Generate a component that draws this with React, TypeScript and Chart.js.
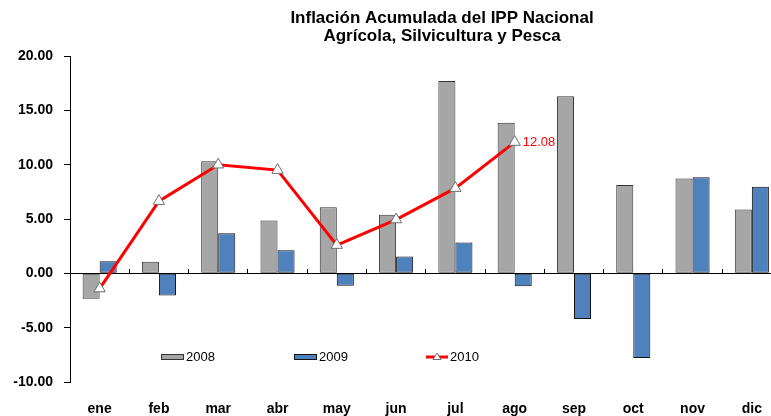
import React, { useEffect, useRef } from "react";
import { Chart, registerables } from "chart.js";

Chart.register(...registerables);

const months = ["ene", "feb", "mar", "abr", "may", "jun", "jul", "ago", "sep", "oct", "nov", "dic"];
const series2008 = [-2.35, 1.06, 10.32, 4.86, 6.09, 5.38, 17.7, 13.85, 16.3, 8.14, 8.72, 5.87];
const series2009 = [1.12, -2.04, 3.7, 2.13, -1.15, 1.55, 2.83, -1.18, -4.2, -7.8, 8.85, 7.96];
const series2010 = [-1.4, 6.64, 10.0, 9.5, 2.6, 4.95, 7.84, 12.08];
const titleLines = ["Inflación Acumulada del IPP Nacional", "Agrícola, Silvicultura y Pesca"];
const seriesNames = ["2008", "2009", "2010"];
const yTicks = { min: -10, max: 20, step: 5 };

const FONT = "'Liberation Sans', Arial, sans-serif";

const titlePlugin = {
  id: "customTitle",
  afterDraw(chart: any) {
    const ctx = chart.ctx;
    ctx.save();
    ctx.fillStyle = "#000";
    ctx.font = `bold 17px ${FONT}`;
    ctx.textAlign = "center";
    ctx.textBaseline = "middle";
    ctx.fillText(titleLines[0], 442, 18);
    ctx.fillText(titleLines[1], 442, 36);
    ctx.restore();
  },
};

const legendPlugin = {
  id: "customLegend",
  afterDraw(chart: any) {
    const ctx = chart.ctx;
    const ds = chart.data.datasets;
    const y = 357;
    const pos = [161, 294, 426];
    ctx.save();
    ctx.font = `13px ${FONT}`;
    ctx.textBaseline = "middle";
    ctx.textAlign = "left";
    for (let i = 0; i < 2; i++) {
      ctx.fillStyle = ds[i].backgroundColor;
      ctx.strokeStyle = ds[i].borderColor;
      ctx.lineWidth = 1;
      ctx.fillRect(pos[i] + 0.5, y - 2.5, 22, 5);
      ctx.strokeRect(pos[i] + 0.5, y - 2.5, 22, 5);
      ctx.fillStyle = "#000";
      ctx.fillText(ds[i].label, pos[i] + 25, y);
    }
    const l = ds[2];
    ctx.strokeStyle = l.borderColor;
    ctx.lineWidth = 3;
    ctx.beginPath();
    ctx.moveTo(pos[2], y);
    ctx.lineTo(pos[2] + 22, y);
    ctx.stroke();
    const cx = pos[2] + 11;
    ctx.fillStyle = l.pointBackgroundColor;
    ctx.strokeStyle = l.pointBorderColor;
    ctx.lineWidth = 1;
    ctx.beginPath();
    ctx.moveTo(cx, y - 4);
    ctx.lineTo(cx + 4, y + 2.5);
    ctx.lineTo(cx - 4, y + 2.5);
    ctx.closePath();
    ctx.fill();
    ctx.stroke();
    ctx.fillStyle = "#000";
    ctx.fillText(l.label, pos[2] + 24, y);
    ctx.restore();
  },
};

const dataLabelPlugin = {
  id: "lastLabel",
  afterDatasetsDraw(chart: any) {
    const meta = chart.getDatasetMeta(2);
    const idx = series2010.length - 1;
    const pt = meta.data[idx];
    if (!pt) return;
    const ctx = chart.ctx;
    ctx.save();
    ctx.font = `13px ${FONT}`;
    ctx.fillStyle = "#FF0000";
    ctx.textAlign = "left";
    ctx.textBaseline = "middle";
    ctx.fillText(series2010[idx].toFixed(2), pt.x + 8, pt.y);
    ctx.restore();
  },
};

export default function App() {
  const ref = useRef<HTMLCanvasElement | null>(null);
  useEffect(() => {
    if (!ref.current) return;
    const chart = new Chart(ref.current, {
      type: "bar",
      data: {
        labels: months,
        datasets: [
          {
            type: "bar",
            label: seriesNames[0],
            data: series2008,
            backgroundColor: "#A6A6A6",
            borderColor: "#333333",
            borderWidth: 1,
            borderSkipped: false,
            categoryPercentage: 0.575,
            barPercentage: 1,
            order: 1,
          },
          {
            type: "bar",
            label: seriesNames[1],
            data: series2009,
            backgroundColor: "#4F81BD",
            borderColor: "#111111",
            borderWidth: 1,
            borderSkipped: false,
            categoryPercentage: 0.575,
            barPercentage: 1,
            order: 1,
          },
          {
            type: "line",
            label: seriesNames[2],
            data: series2010,
            borderColor: "#FF0000",
            borderWidth: 3,
            pointStyle: "triangle",
            pointRadius: 6.5,
            pointBackgroundColor: "#FFFFFF",
            pointBorderColor: "#6F6F6F",
            pointBorderWidth: 1,
            tension: 0,
            order: -1,
          } as any,
        ],
      },
      options: {
        animation: false,
        responsive: false,
        layout: { padding: { top: 56, left: 0, right: 0, bottom: 0 } },
        plugins: {
          legend: { display: false },
          title: { display: false },
          tooltip: { enabled: false },
        },
        scales: {
          x: {
            type: "category",
            offset: true,
            grid: { display: false, drawTicks: false },
            border: { display: false },
            ticks: {
              color: "#000",
              font: { family: FONT, size: 14, weight: "bold" },
              padding: 19,
              maxRotation: 0,
            },
            afterFit: (s: any) => {
              s.height = 34;
            },
          },
          x2: {
            type: "category",
            labels: months,
            offset: true,
            position: { y: 0 } as any,
            grid: {
              offset: true,
              drawOnChartArea: false,
              drawTicks: true,
              tickLength: -5,
              color: "#000",
              lineWidth: 1,
            },
            border: { display: true, color: "#000", width: 1 },
            ticks: { display: false },
          },
          y: {
            min: yTicks.min,
            max: yTicks.max,
            grid: {
              drawOnChartArea: false,
              drawTicks: true,
              tickLength: 6,
              color: "#000",
            },
            border: { display: true, color: "#000", width: 1 },
            ticks: {
              stepSize: yTicks.step,
              color: "#000",
              padding: 11,
              font: { family: FONT, size: 14, weight: "bold" },
              callback: (v: any) => Number(v).toFixed(2),
            },
            afterFit: (s: any) => {
              s.width = 70;
            },
          },
        },
      } as any,
      plugins: [titlePlugin, legendPlugin, dataLabelPlugin],
    });
    return () => chart.destroy();
  }, []);

  return (
    <div
      style={{
        position: "absolute",
        left: 0,
        top: 0,
        width: 771,
        height: 416,
        overflow: "hidden",
        background: "#fff",
      }}
    >
      <canvas ref={ref} width={789} height={416} style={{ width: 789, height: 416, display: "block" }} />
    </div>
  );
}
